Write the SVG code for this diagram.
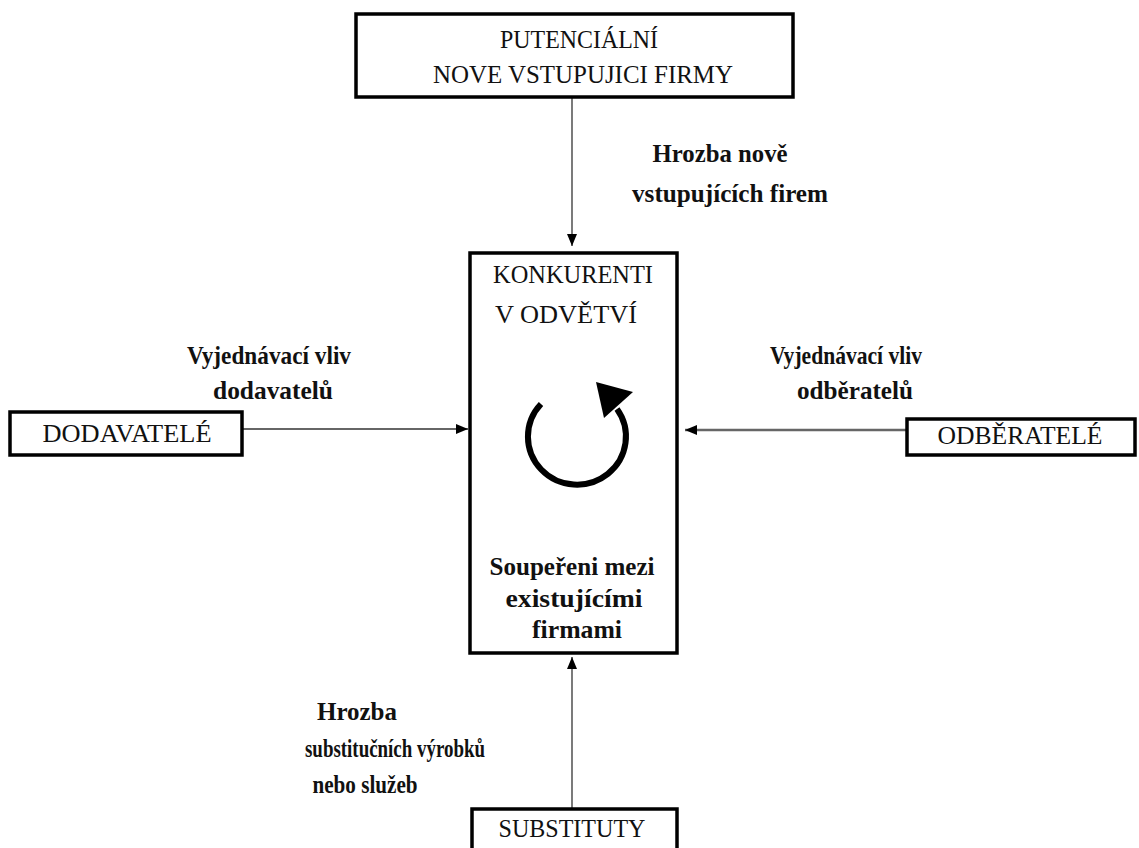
<svg xmlns="http://www.w3.org/2000/svg" width="1139" height="848" viewBox="0 0 1139 848">
<style>
.box{fill:#fff;stroke:#000;stroke-width:3.5}
.cap{font-family:"Liberation Serif","Times New Roman",serif;font-size:25px;fill:#111;text-anchor:middle}
.lbl{font-family:"Liberation Serif","Times New Roman",serif;font-size:25px;font-weight:bold;fill:#111;text-anchor:middle}
.conn{stroke:#333;stroke-width:1.3;fill:none}
</style>
<defs>
<marker id="ah" viewBox="0 0 12 10" refX="12" refY="5" markerWidth="12" markerHeight="10" markerUnits="userSpaceOnUse" orient="auto">
<path d="M0,0 L12,5 L0,10 Z" fill="#000"/>
</marker>
</defs>
<rect width="1139" height="848" fill="#fff"/>
<g id="connectors">
<line class="conn" x1="572" y1="97" x2="572" y2="246" marker-end="url(#ah)"/>
<line class="conn" x1="242" y1="429" x2="468" y2="429" marker-end="url(#ah)"/>
<line x1="907" y1="430" x2="685" y2="430" stroke="#666" stroke-width="2.5" marker-end="url(#ah)"/>
<line class="conn" x1="572" y1="809" x2="572" y2="657" marker-end="url(#ah)"/>
</g>
<g id="potencialni">
<rect class="box" x="356" y="14" width="437" height="83"/>
<text class="cap" x="579" y="48" textLength="158" lengthAdjust="spacingAndGlyphs">PUTENCIÁLNÍ</text>
<text class="cap" x="583" y="83" textLength="300" lengthAdjust="spacingAndGlyphs">NOVE VSTUPUJICI FIRMY</text>
</g>
<g id="label-top">
<text class="lbl" x="720" y="162" textLength="135" lengthAdjust="spacingAndGlyphs">Hrozba nově</text>
<text class="lbl" x="730" y="202" textLength="196" lengthAdjust="spacingAndGlyphs">vstupujících firem</text>
</g>
<g id="konkurenti">
<rect class="box" x="470" y="253" width="207" height="400"/>
<text class="cap" x="573" y="283" textLength="160" lengthAdjust="spacingAndGlyphs">KONKURENTI</text>
<text class="cap" x="566" y="323" textLength="142" lengthAdjust="spacingAndGlyphs">V ODVĚTVÍ</text>
<path d="M541,404 A49,48 0 1 0 617,409" fill="none" stroke="#000" stroke-width="6"/>
<polygon points="596,382 633,392 604,418" fill="#000"/>
<text class="lbl" x="572" y="575" textLength="165" lengthAdjust="spacingAndGlyphs">Soupeřeni mezi</text>
<text class="lbl" x="574" y="607" textLength="137" lengthAdjust="spacingAndGlyphs">existujícími</text>
<text class="lbl" x="577" y="638" textLength="90" lengthAdjust="spacingAndGlyphs">firmami</text>
</g>
<g id="label-left">
<text class="lbl" x="269" y="364" textLength="164" lengthAdjust="spacingAndGlyphs">Vyjednávací vliv</text>
<text class="lbl" x="273" y="399" textLength="120" lengthAdjust="spacingAndGlyphs">dodavatelů</text>
</g>
<g id="dodavatele">
<rect class="box" x="10" y="412" width="232" height="43"/>
<text class="cap" x="127" y="442" textLength="169" lengthAdjust="spacingAndGlyphs">DODAVATELÉ</text>
</g>
<g id="label-right">
<text class="lbl" x="846" y="364" textLength="152" lengthAdjust="spacingAndGlyphs">Vyjednávací vliv</text>
<text class="lbl" x="855" y="399" textLength="116" lengthAdjust="spacingAndGlyphs">odběratelů</text>
</g>
<g id="odberatele">
<rect class="box" x="907" y="419" width="228" height="36"/>
<text class="cap" x="1020" y="444" textLength="165" lengthAdjust="spacingAndGlyphs">ODBĚRATELÉ</text>
</g>
<g id="label-bottom">
<text class="lbl" x="357" y="720" textLength="80" lengthAdjust="spacingAndGlyphs">Hrozba</text>
<text class="lbl" x="395" y="757" textLength="180" lengthAdjust="spacingAndGlyphs">substitučních výrobků</text>
<text class="lbl" x="365" y="793" textLength="105" lengthAdjust="spacingAndGlyphs">nebo služeb</text>
</g>
<g id="substituty">
<rect class="box" x="472" y="809" width="205" height="50"/>
<text class="cap" x="572" y="837" textLength="147" lengthAdjust="spacingAndGlyphs">SUBSTITUTY</text>
</g>
</svg>
